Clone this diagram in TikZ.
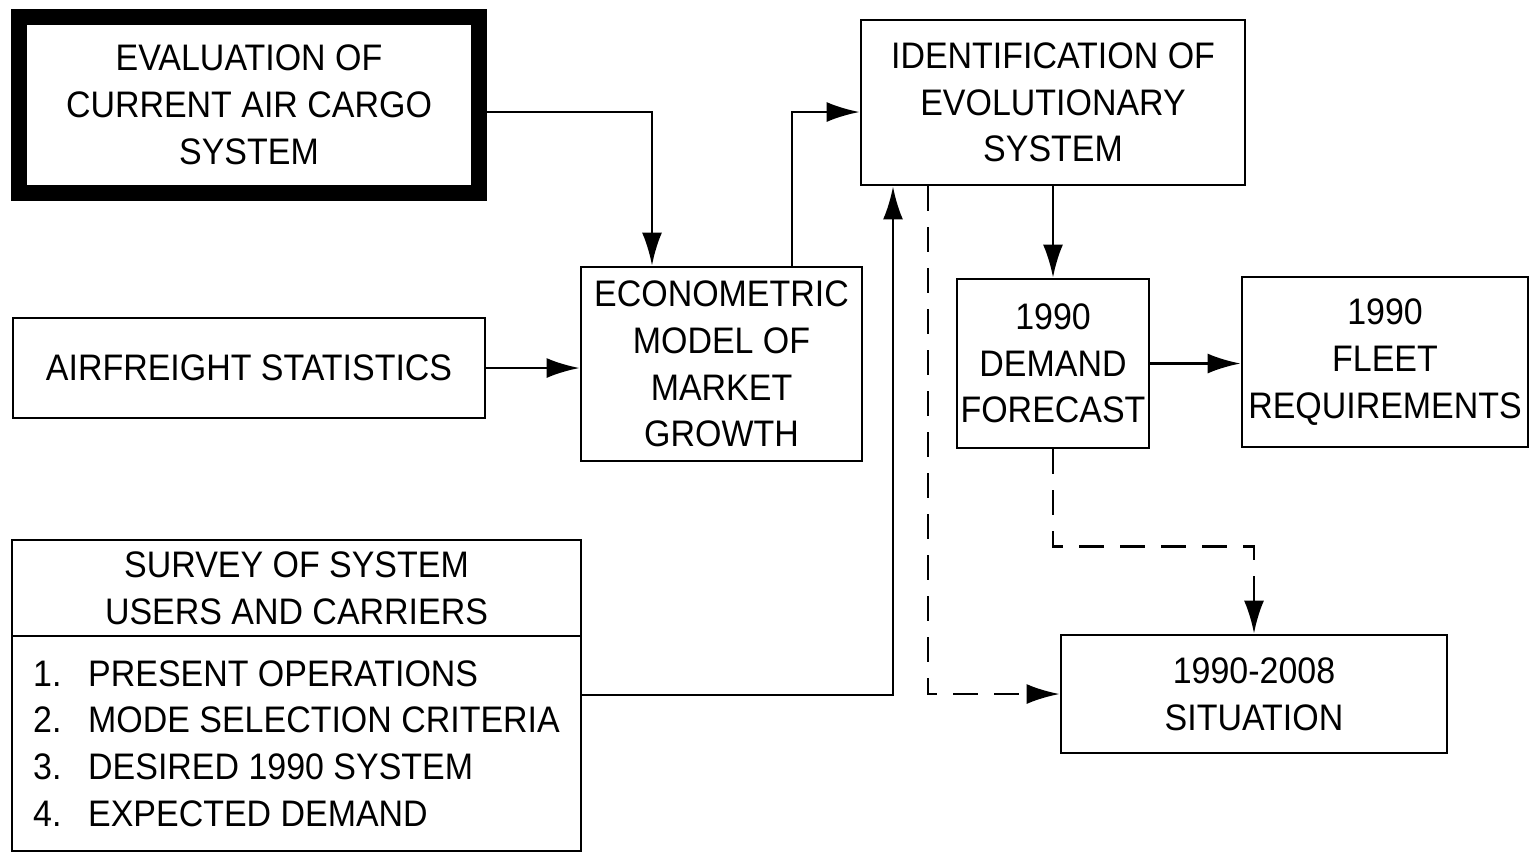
\documentclass[tikz,border=0pt]{standalone}
\usepackage{fontspec}
\setmainfont{Liberation Sans}[FakeStretch=0.92]
\usetikzlibrary{arrows.meta}
\begin{document}
\begin{tikzpicture}
        [box/.style={rectangle, draw, thick, inner sep=0pt, align=center, font=\fontsize{10.5}{13.3}\selectfont},
        boxHeavy/.style={box, line width=4.5pt},
        arr/.style={thick, -{Latex[length=3.3mm, width=2mm]}},
        dashline/.style={arr, dash pattern=on 2.5mm off 1.6mm}]
        \useasboundingbox (0,0) rectangle (15.3,-8.53);

        \node[boxHeavy, minimum width=4.6cm, minimum height=1.76cm] (eval) at (2.49,-1.05) {EVALUATION OF\\CURRENT AIR CARGO\\SYSTEM};
        \node[box, minimum width=4.72cm, minimum height=1cm] (stats) at (2.49,-3.68) {AIRFREIGHT STATISTICS};
        \node[box, minimum width=2.81cm, minimum height=1.94cm] (econ) at (7.215,-3.64) {ECONOMETRIC\\MODEL OF\\MARKET\\GROWTH};
        \node[box, minimum width=3.84cm, minimum height=1.65cm] (ident) at (10.53,-1.025) {IDENTIFICATION OF\\EVOLUTIONARY\\SYSTEM};
        \node[box, minimum width=1.92cm, minimum height=1.69cm] (demand) at (10.53,-3.635) {1990\\DEMAND\\FORECAST};
        \node[box, minimum width=2.86cm, minimum height=1.7cm] (fleet) at (13.85,-3.62) {1990\\FLEET\\REQUIREMENTS};
        \node[box, minimum width=3.86cm, minimum height=1.18cm] (situation) at (12.54,-6.94) {1990-2008\\SITUATION};
        \node[box, minimum width=5.69cm, minimum height=0.96cm] (survey) at (2.965,-5.88) {SURVEY OF SYSTEM\\USERS AND CARRIERS};
        \node[box, minimum width=5.69cm, minimum height=2.15cm, align=left] (surveyList) at (2.965,-7.435)
            {\makebox[0.55cm][l]{1.}PRESENT OPERATIONS\\
             \makebox[0.55cm][l]{2.}MODE SELECTION CRITERIA\\
             \makebox[0.55cm][l]{3.}DESIRED 1990 SYSTEM\\
             \makebox[0.55cm][l]{4.}EXPECTED DEMAND};

        \draw[arr] ([yshift=-0.07cm]eval.east) -| ([xshift=-0.695cm]econ.north);
        \draw[arr] (stats.east) -- (stats.east -| econ.west);
        \draw[arr] ([xshift=0.705cm]econ.north) |- ([yshift=-0.095cm]ident.west);
        \draw[arr] ([yshift=0.485cm]surveyList.east) -| ([xshift=-1.6cm]ident.south);
        \draw[arr] (ident.south) -- (demand.north);
        \draw[arr] (demand.east) -- (demand.east -| fleet.west);

        \draw[dashline] (demand.south) -- ++(0,-0.97) -| (situation.north);
        \draw[dashline] ([xshift=-1.25cm]ident.south) |- (situation.west);
    \end{tikzpicture}
\end{document}
